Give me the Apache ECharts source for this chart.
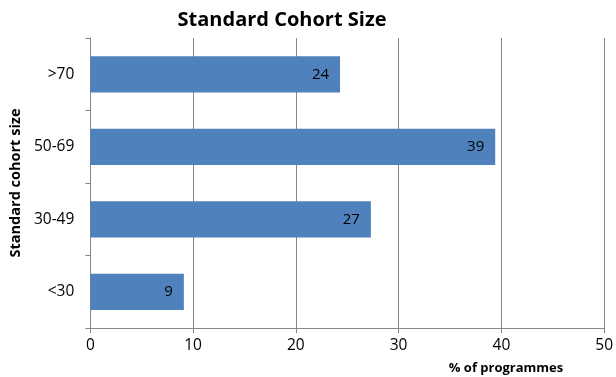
<!DOCTYPE html>
<html><head><meta charset="utf-8">
<script src="https://cdn.jsdelivr.net/npm/echarts@6/dist/echarts.min.js"></script>
<style>html,body{margin:0;padding:0;background:#fff}#c{width:616px;height:377px}</style>
</head><body><div id="c"></div>
<script>
var categories = ['<30', '30-49', '50-69', '>70'];
var values = [9.1, 27.3, 39.4, 24.3];
var xTicks = [0, 10, 20, 30, 40, 50];
var titleText = 'Standard Cohort Size';
var xName = '% of programmes';
var yName = 'Standard cohort size';

var chart = echarts.init(document.getElementById('c'));
var F = 'Open Sans';
chart.setOption({
  animation: false,
  title: [{
    text: titleText, left: 277, top: 5, textAlign: 'center',
    textStyle: {fontFamily: F, fontWeight: 'bold', fontSize: 20, color: '#000'}
  }, {
    text: xName, left: 501, top: 357, textAlign: 'center',
    textStyle: {fontFamily: F, fontWeight: 'bold', fontSize: 13, color: '#000'}
  }],
  grid: {left: 90, right: 10, top: 38, bottom: 49, containLabel: false},
  xAxis: {
    type: 'value', min: xTicks[0], max: xTicks[xTicks.length - 1], interval: 10,
    axisLine: {show: true, lineStyle: {color: '#868686', width: 1}},
    axisTick: {show: true, length: 5, lineStyle: {color: '#868686'}},
    splitLine: {show: true, lineStyle: {color: '#868686', width: 1}},
    axisLabel: {fontFamily: F, fontSize: 15.5, color: '#000', margin: 10}
  },
  yAxis: {
    type: 'category', data: categories,
    name: yName, nameLocation: 'middle', nameGap: 64, nameRotate: 90,
    nameTextStyle: {fontFamily: F, fontWeight: 'bold', fontSize: 14.5, color: '#000'},
    axisLine: {show: true, lineStyle: {color: '#868686', width: 1}},
    axisTick: {show: true, length: 5, lineStyle: {color: '#868686'}},
    axisLabel: {fontFamily: F, fontSize: 15.5, color: '#000', margin: 16}
  },
  series: [{
    type: 'bar', data: values, barWidth: '50%',
    itemStyle: {color: '#4F81BD'},
    label: {show: true, position: 'insideRight', distance: 11,
      fontFamily: F, fontSize: 15, color: '#000',
      formatter: function (p) { return Math.round(p.value); }}
  }]
});
</script></body></html>
